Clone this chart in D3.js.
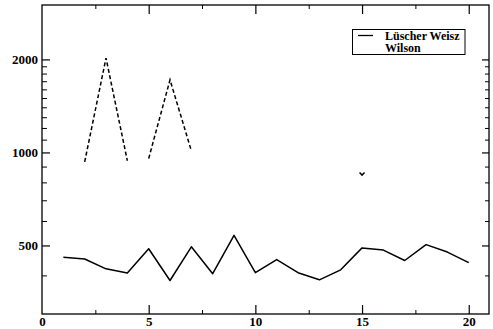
<!DOCTYPE html>
<html>
<head>
<meta charset="utf-8">
<script src="https://cdn.jsdelivr.net/npm/d3@7"></script>
<style>
  html, body { margin: 0; padding: 0; background: #fff; }
  svg { display: block; }
</style>
</head>
<body>
<svg id="chart" width="493" height="329"></svg>
<script>
// ---- data ----
const luscherX = [1,2,3,4,5,6,7,8,9,10,11,12,13,14,15,16,17,18,19,20];
const luscherY = [458,452,420,407,488,385,495,405,539,408,450,408,387,417,491,483,447,503,476,440];
const wilsonX = [2,3,4,5,6,7,15];
const wilsonY = [932,2020,940,956,1718,1012,851];
const wilsonSegment = [0,0,0,1,1,1,2];
const xTickValues = [0,5,10,15,20];
const xMinorTicks = [2.5,7.5,12.5,17.5];
const yTickValues = [500,1000,2000];
const yMinorTicks = [400,600,700,800,900,1100,1200,1300,1400,1500,1600,1700,1800,1900];
const legendLabels = ["Lüscher Weisz","Wilson"];

(function () {
const FONT = "'Liberation Serif', 'DejaVu Serif', serif";
// ---- layout ----
const svg = d3.select("#chart");
const mLeft = 42, mRight = 489, mTop = 5, mBottom = 314;
const x = d3.scaleLinear().domain([0, 20.95]).range([mLeft, mRight]);
const y = d3.scaleLog().domain([300, 3000]).range([mBottom, mTop]);

// frame
svg.append("rect").attr("x", mLeft).attr("y", mTop)
  .attr("width", mRight - mLeft).attr("height", mBottom - mTop)
  .attr("fill", "none").attr("stroke", "#000").attr("stroke-width", 1.3);

// bottom axis (ticks inward)
const gB = svg.append("g").attr("transform", `translate(0,${mBottom})`);
gB.call(d3.axisBottom(x).tickValues(xTickValues).tickSizeInner(-9).tickSizeOuter(0).tickPadding(3)
  .tickFormat(d3.format("d")));
gB.select(".domain").remove();
gB.selectAll(".tick").filter(d => d === 0).select("line").remove();
gB.selectAll("text").attr("y", 3).attr("dy", "0.71em")
  .style("font-family", FONT).style("font-weight", "bold").style("font-size", "13px").attr("fill", "#000");
gB.selectAll(".tick line").attr("stroke-width", 1.2);
gB.append("g").call(d3.axisBottom(x).tickValues(xMinorTicks).tickSizeInner(-4).tickSizeOuter(0).tickFormat(""))
  .call(g => g.select(".domain").remove());

// top axis (ticks inward)
const gT = svg.append("g").attr("transform", `translate(0,${mTop})`);
gT.call(d3.axisTop(x).tickValues(xTickValues.filter(d => d > 0)).tickSizeInner(-9).tickSizeOuter(0).tickFormat(""));
gT.select(".domain").remove();
gT.selectAll(".tick line").attr("stroke-width", 1.2);
gT.append("g").call(d3.axisTop(x).tickValues(xMinorTicks).tickSizeInner(-4).tickSizeOuter(0).tickFormat(""))
  .call(g => g.select(".domain").remove());

// left axis
const gL = svg.append("g").attr("transform", `translate(${mLeft},0)`);
gL.call(d3.axisLeft(y).tickValues(yTickValues).tickSizeInner(-8).tickSizeOuter(0).tickPadding(4)
  .tickFormat(d3.format("d")));
gL.select(".domain").remove();
gL.selectAll("text").attr("x", -4)
  .style("font-family", FONT).style("font-weight", "bold").style("font-size", "13px").attr("fill", "#000");
gL.selectAll(".tick line").attr("stroke-width", 1.2);
gL.append("g").call(d3.axisLeft(y).tickValues(yMinorTicks).tickSizeInner(-5).tickSizeOuter(0).tickFormat(""))
  .call(g => g.select(".domain").remove());

// right axis
const gR = svg.append("g").attr("transform", `translate(${mRight},0)`);
gR.call(d3.axisRight(y).tickValues(yTickValues).tickSizeInner(-7).tickSizeOuter(0).tickFormat(""));
gR.select(".domain").remove();
gR.selectAll(".tick line").attr("stroke-width", 1.2);
gR.append("g").call(d3.axisRight(y).tickValues(yMinorTicks).tickSizeInner(-4).tickSizeOuter(0).tickFormat(""))
  .call(g => g.select(".domain").remove());

// Lüscher Weisz solid line
const luscher = luscherX.map((v, i) => [v, luscherY[i]]);
const line = d3.line().x(d => x(d[0])).y(d => y(d[1]));
svg.append("path").datum(luscher).attr("d", line)
  .attr("fill", "none").attr("stroke", "#000").attr("stroke-width", 1.5).attr("stroke-linejoin", "round");

// Wilson dashed segments
const wilson = wilsonX.map((v, i) => ({x: v, y: wilsonY[i], s: wilsonSegment[i]}));
const segs = d3.groups(wilson, d => d.s).map(g => g[1]);
segs.forEach(seg => {
  if (seg.length > 1) {
    svg.append("path").datum(seg.map(d => [d.x, d.y])).attr("d", line)
      .attr("fill", "none").attr("stroke", "#000").attr("stroke-width", 1.5)
      .attr("stroke-dasharray", "4,2.5");
  } else {
    const px = x(seg[0].x), py = y(seg[0].y);
    svg.append("path")
      .attr("d", `M${px - 2.5},${py - 1.5}L${px},${py + 1}L${px + 2.5},${py - 1.5}`)
      .attr("fill", "none").attr("stroke", "#000").attr("stroke-width", 1.5);
  }
});

// legend
const lg = svg.append("g");
lg.append("rect").attr("x", 352.5).attr("y", 29.5).attr("width", 112.5).attr("height", 25)
  .attr("fill", "#fff").attr("stroke", "#000").attr("stroke-width", 1);
lg.append("line").attr("x1", 358).attr("x2", 373).attr("y1", 35.5).attr("y2", 35.5)
  .attr("stroke", "#000").attr("stroke-width", 1.3);
lg.selectAll("text.lab").data(legendLabels).join("text")
  .attr("class", "lab")
  .attr("x", 385).attr("y", (d, i) => 39.5 + i * 12.5)
  .attr("fill", "#000")
  .style("font-family", FONT).style("font-weight", "bold").style("font-size", "12px")
  .text(d => d);
})();
</script>
</body>
</html>
